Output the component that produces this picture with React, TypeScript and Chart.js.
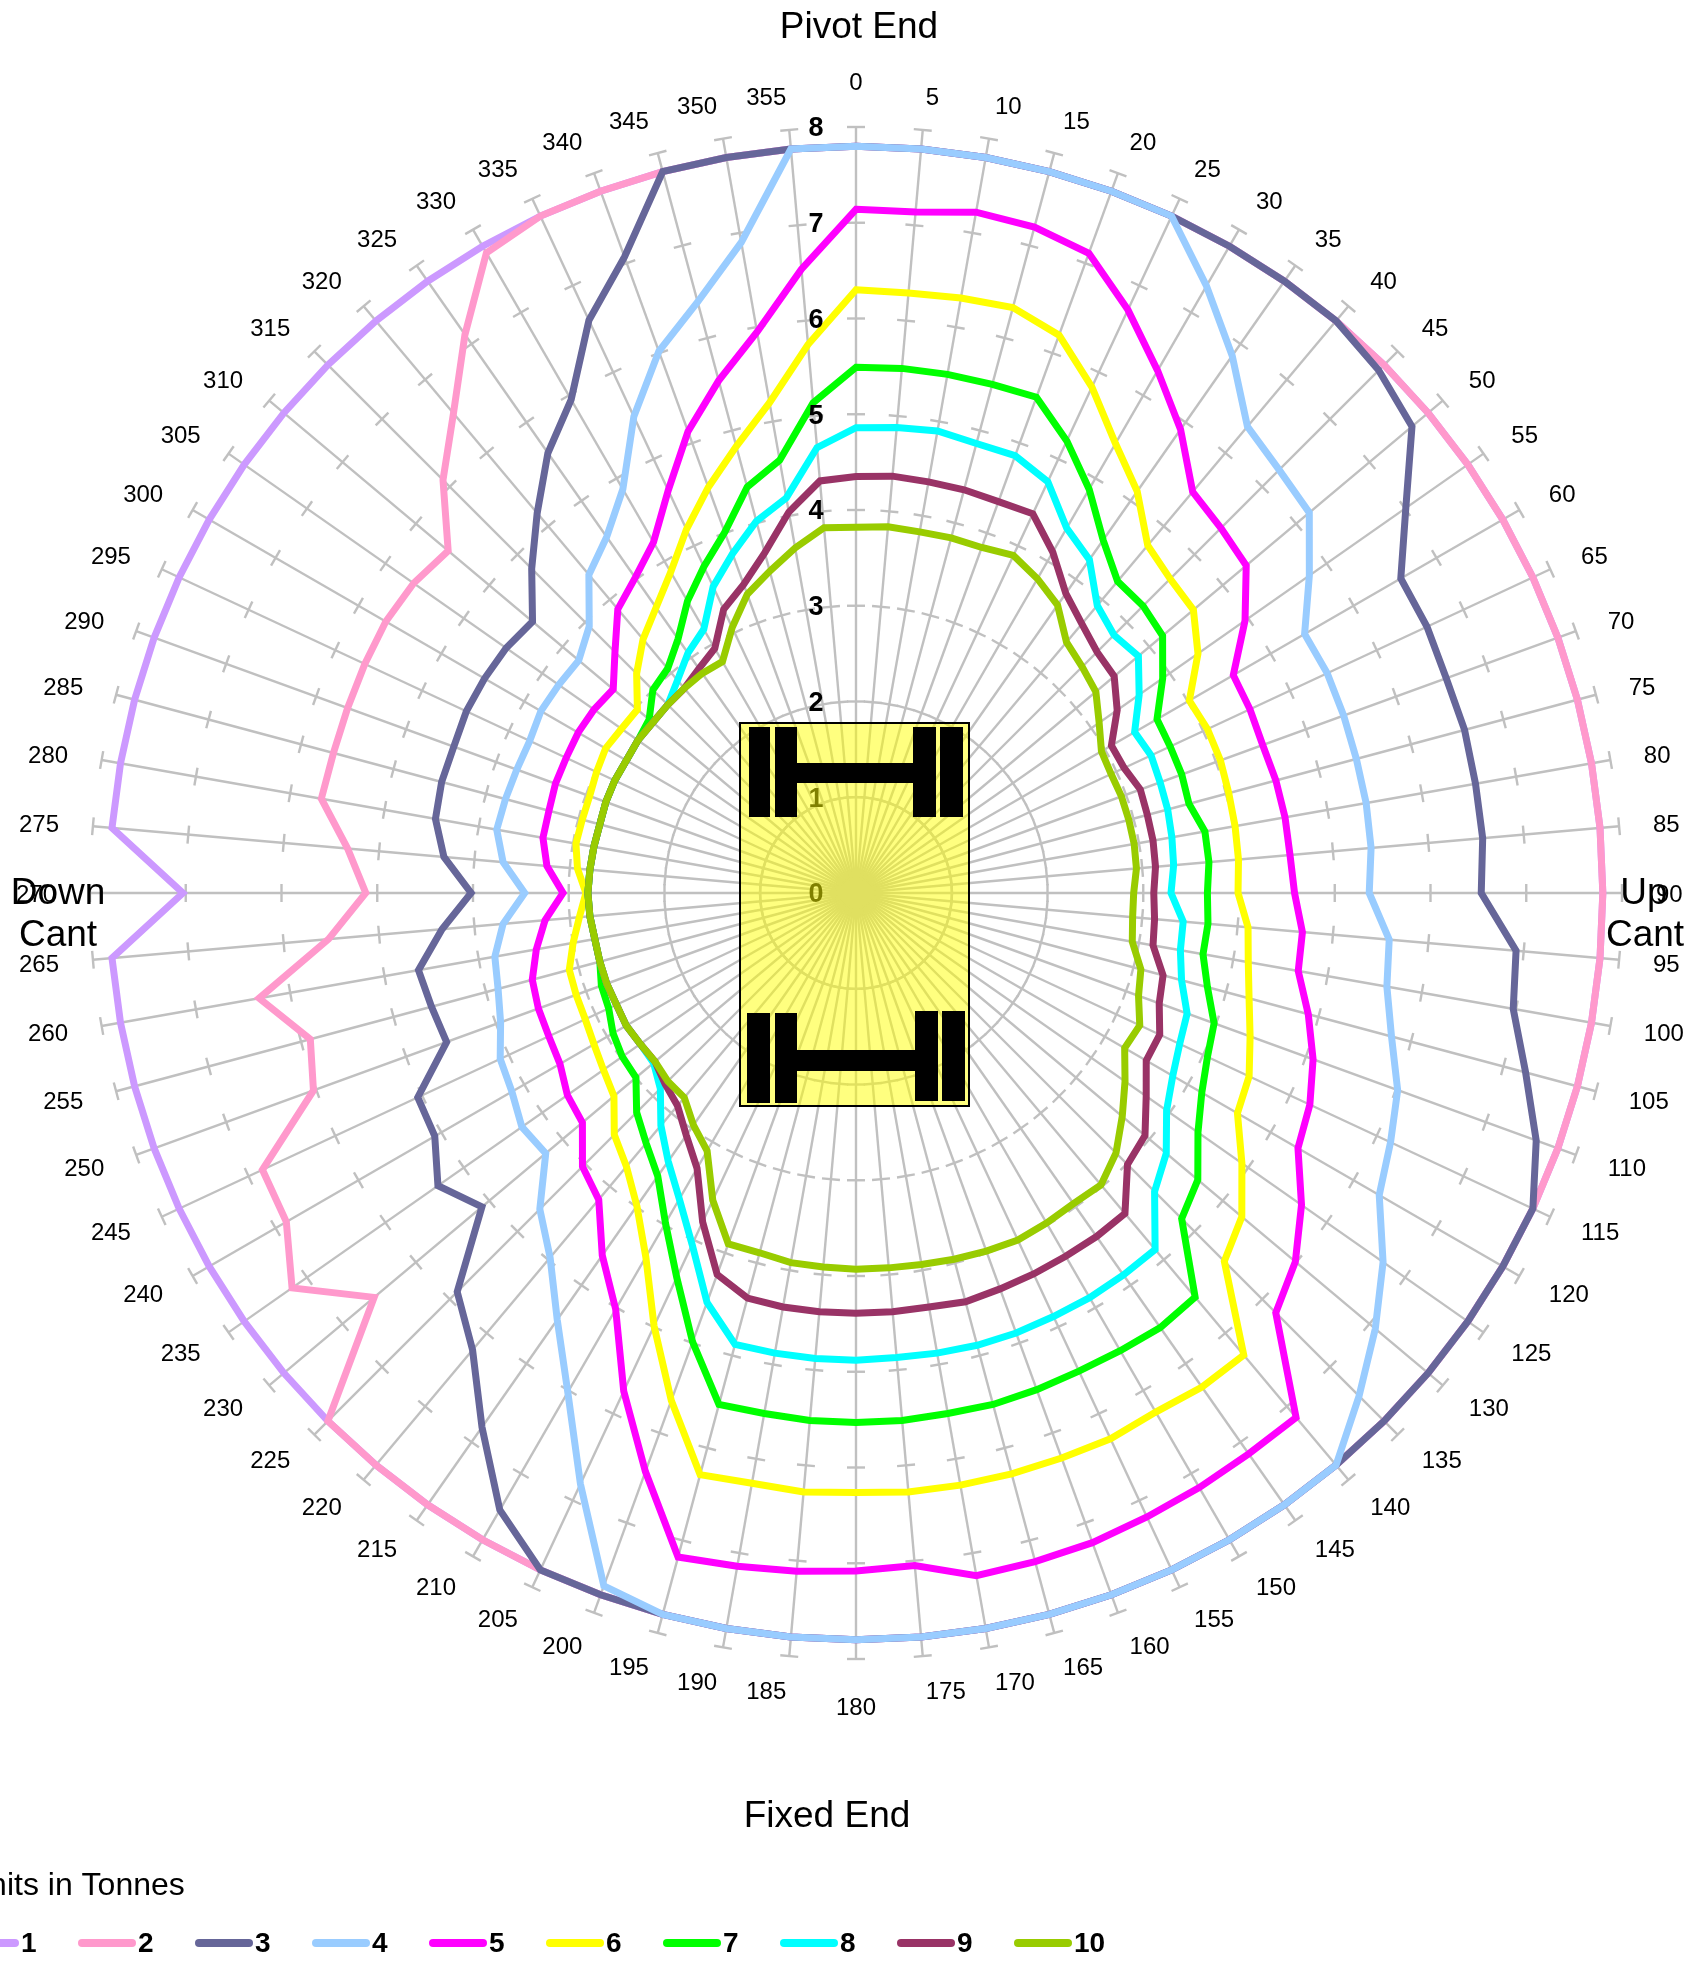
import React, { useEffect, useRef } from "react";
import { Chart, registerables } from "chart.js";

Chart.register(...registerables);

const angles = [
  0, 5, 10, 15, 20, 25, 30, 35, 40, 45, 50, 55, 60, 65, 70, 75, 80, 85,
  90, 95, 100, 105, 110, 115, 120, 125, 130, 135, 140, 145, 150, 155, 160, 165, 170, 175,
  180, 185, 190, 195, 200, 205, 210, 215, 220, 225, 230, 235, 240, 245, 250, 255, 260, 265,
  270, 275, 280, 285, 290, 295, 300, 305, 310, 315, 320, 325, 330, 335, 340, 345, 350, 355,
];
const tonnes = [0, 1, 2, 3, 4, 5, 6, 7, 8];

const s1 = [
  7.8, 7.8, 7.8, 7.8, 7.8, 7.8, 7.8, 7.8, 7.8, 7.8, 7.8, 7.8, 7.8, 7.8, 7.8, 7.8, 7.8, 7.8,
  7.8, 7.8, 7.8, 7.8, 7.8, 7.8, 7.8, 7.8, 7.8, 7.8, 7.8, 7.8, 7.8, 7.8, 7.8, 7.8, 7.8, 7.8,
  7.8, 7.8, 7.8, 7.8, 7.8, 7.8, 7.8, 7.8, 7.8, 7.8, 7.8, 7.8, 7.8, 7.8, 7.8, 7.8, 7.8, 7.8,
  7.03, 7.8, 7.8, 7.8, 7.8, 7.8, 7.8, 7.8, 7.8, 7.8, 7.8, 7.8, 7.8, 7.8, 7.8, 7.8, 7.8, 7.8,
];
const s2 = [
  7.8, 7.8, 7.8, 7.8, 7.8, 7.8, 7.8, 7.8, 7.8, 7.8, 7.8, 7.8, 7.8, 7.8, 7.8, 7.8, 7.8, 7.8,
  7.8, 7.8, 7.8, 7.8, 7.8, 7.8, 7.8, 7.8, 7.8, 7.8, 7.8, 7.8, 7.8, 7.8, 7.8, 7.8, 7.8, 7.8,
  7.8, 7.8, 7.8, 7.8, 7.8, 7.8, 7.8, 7.8, 7.8, 7.8, 6.57, 7.19, 6.87, 6.84, 6.03, 5.9, 6.33, 5.53,
  5.12, 5.33, 5.67, 5.65, 5.65, 5.66, 5.67, 5.64, 5.56, 6.1, 6.54, 7.12, 7.72, 7.8, 7.8, 7.8, 7.8, 7.8,
];
const s3 = [
  7.8, 7.8, 7.8, 7.8, 7.8, 7.8, 7.8, 7.8, 7.8, 7.72, 7.58, 7.01, 6.57, 6.58, 6.56, 6.58, 6.57, 6.57,
  6.53, 6.92, 6.97, 7.24, 7.56, 7.8, 7.8, 7.8, 7.8, 7.8, 7.8, 7.8, 7.8, 7.8, 7.8, 7.8, 7.8, 7.8,
  7.8, 7.8, 7.8, 7.8, 7.8, 7.8, 7.44, 6.81, 6.23, 5.89, 5.1, 5.33, 5.08, 5.05, 4.55, 4.59, 4.64, 4.34,
  4.02, 4.32, 4.46, 4.48, 4.47, 4.49, 4.48, 4.46, 4.41, 4.79, 5.18, 5.61, 5.95, 6.6, 7.07, 7.8, 7.8, 7.8,
];
const s4 = [
  7.8, 7.8, 7.8, 7.8, 7.8, 7.8, 7.32, 6.85, 6.36, 6.25, 6.18, 5.78, 5.41, 5.43, 5.42, 5.41, 5.41, 5.4,
  5.36, 5.59, 5.63, 5.79, 6.02, 6.16, 6.31, 6.72, 7.08, 7.43, 7.8, 7.8, 7.8, 7.8, 7.8, 7.8, 7.8, 7.8,
  7.8, 7.8, 7.8, 7.8, 7.7, 6.81, 6.02, 5.44, 4.97, 4.67, 4.23, 4.26, 4.15, 4.1, 3.95, 3.87, 3.83, 3.7,
  3.46, 3.7, 3.81, 3.79, 3.77, 3.76, 3.8, 3.79, 3.78, 3.94, 4.34, 4.54, 4.87, 5.49, 6.02, 6.39, 6.9, 7.8,
];
const s5 = [
  7.14, 7.14, 7.22, 7.2, 7.11, 6.72, 6.3, 5.91, 5.47, 5.39, 5.32, 4.96, 4.55, 4.54, 4.52, 4.54, 4.55, 4.55,
  4.58, 4.68, 4.69, 4.89, 5.08, 5.23, 5.33, 5.68, 5.99, 6.2, 7.15, 7.15, 7.17, 7.19, 7.22, 7.23, 7.24, 7.05,
  7.08, 7.11, 7.14, 7.18, 6.43, 5.74, 5.02, 4.62, 4.18, 4.04, 3.73, 3.68, 3.57, 3.54, 3.53, 3.5, 3.39, 3.26,
  3.06, 3.24, 3.32, 3.32, 3.34, 3.34, 3.35, 3.34, 3.31, 3.56, 3.87, 4.02, 4.23, 4.64, 5.13, 5.54, 5.95, 6.54,
];
const s6 = [
  6.3, 6.29, 6.31, 6.33, 6.2, 5.83, 5.42, 5.12, 4.74, 4.64, 4.6, 4.36, 4.02, 4.05, 4.05, 4.03, 4.02, 4.01,
  3.99, 4.11, 4.16, 4.25, 4.38, 4.53, 4.6, 4.92, 5.26, 5.44, 6.3, 6.3, 6.26, 6.29, 6.28, 6.28, 6.28, 6.28,
  6.26, 6.28, 6.26, 6.29, 5.64, 4.99, 4.39, 3.99, 3.73, 3.57, 3.3, 3.22, 3.16, 3.12, 3.11, 3.1, 3.0, 2.9,
  2.82, 2.92, 2.97, 2.96, 2.96, 2.99, 3.02, 2.99, 2.98, 3.24, 3.46, 3.64, 3.87, 4.19, 4.51, 4.83, 5.2, 5.75,
];
const s7 = [
  5.49, 5.5, 5.5, 5.5, 5.51, 5.21, 4.87, 4.5, 4.25, 4.24, 4.18, 3.91, 3.63, 3.62, 3.62, 3.6, 3.7, 3.7,
  3.67, 3.69, 3.68, 3.8, 3.98, 4.05, 4.17, 4.36, 4.66, 4.81, 5.51, 5.54, 5.52, 5.51, 5.52, 5.53, 5.52, 5.53,
  5.53, 5.53, 5.52, 5.53, 4.99, 4.43, 3.98, 3.61, 3.41, 3.24, 3.0, 2.98, 2.93, 2.85, 2.83, 2.77, 2.77, 2.79,
  2.8, 2.79, 2.78, 2.77, 2.78, 2.78, 2.77, 2.78, 2.82, 3.0, 3.06, 3.24, 3.52, 3.76, 4.01, 4.39, 4.59, 5.14,
];
const s8 = [
  4.86, 4.88, 4.9, 4.86, 4.86, 4.74, 4.4, 4.25, 3.92, 3.81, 3.85, 3.61, 3.36, 3.4, 3.38, 3.37, 3.35, 3.33,
  3.29, 3.43, 3.44, 3.52, 3.68, 3.73, 3.82, 3.96, 4.23, 4.41, 4.86, 4.87, 4.88, 4.88, 4.89, 4.89, 4.88, 4.87,
  4.88, 4.88, 4.88, 4.88, 4.55, 4.05, 3.69, 3.42, 3.17, 2.89, 2.76, 2.75, 2.77, 2.76, 2.77, 2.77, 2.77, 2.79,
  2.8, 2.79, 2.78, 2.77, 2.78, 2.78, 2.77, 2.78, 2.77, 2.78, 2.9, 3.06, 3.18, 3.53, 3.77, 4.02, 4.19, 4.67,
];
const s9 = [
  4.35, 4.37, 4.36, 4.36, 4.35, 4.37, 4.11, 3.82, 3.67, 3.56, 3.52, 3.33, 3.08, 3.09, 3.16, 3.15, 3.15, 3.14,
  3.11, 3.13, 3.15, 3.32, 3.37, 3.5, 3.5, 3.7, 3.94, 4.01, 4.37, 4.38, 4.38, 4.39, 4.4, 4.42, 4.39, 4.39,
  4.39, 4.39, 4.39, 4.38, 4.24, 3.79, 3.32, 3.09, 2.9, 2.82, 2.74, 2.75, 2.77, 2.76, 2.77, 2.77, 2.77, 2.79,
  2.8, 2.79, 2.78, 2.77, 2.78, 2.78, 2.77, 2.78, 2.77, 2.78, 2.79, 2.86, 2.95, 3.27, 3.43, 3.68, 4.04, 4.32,
];
const s10 = [
  3.82, 3.84, 3.83, 3.84, 3.84, 3.89, 3.79, 3.67, 3.42, 3.34, 3.27, 3.1, 2.96, 2.94, 2.95, 2.95, 2.95, 2.94,
  2.9, 2.9, 2.93, 3.08, 3.14, 3.27, 3.24, 3.43, 3.63, 3.84, 3.98, 3.96, 3.98, 4.0, 3.98, 3.96, 3.94, 3.93,
  3.93, 3.92, 3.92, 3.89, 3.9, 3.54, 3.11, 2.96, 2.79, 2.78, 2.74, 2.75, 2.77, 2.76, 2.77, 2.77, 2.77, 2.79,
  2.8, 2.79, 2.78, 2.77, 2.78, 2.78, 2.77, 2.78, 2.77, 2.78, 2.79, 2.8, 2.79, 3.06, 3.32, 3.48, 3.66, 3.83,
];

const seriesNames = ["1", "2", "3", "4", "5", "6", "7", "8", "9", "10"];
const seriesValues = [s1, s2, s3, s4, s5, s6, s7, s8, s9, s10];
const seriesColors = ["#cc99ff", "#ff99cc", "#666699", "#99ccff", "#ff00ff", "#ffff00", "#00ff00", "#00ffff", "#993366", "#99cc00"];

const FONT = '"Liberation Sans", Arial, sans-serif';
const GRID = "#c0c0c0";

const decorations = {
  id: "decorations",
  beforeDatasetsDraw(chart: any) {
    const { ctx } = chart;
    const scale = chart.scales.r;
    ctx.save();
    ctx.strokeStyle = GRID;
    ctx.lineWidth = 2.4;
    const half = 9;
    angles.forEach((deg, i) => {
      const a = (deg * Math.PI) / 180;
      const tx = Math.cos(a);
      const ty = Math.sin(a);
      tonnes.forEach((t) => {
        const p = scale.getPointPositionForValue(i, t);
        ctx.beginPath();
        ctx.moveTo(p.x - tx * half, p.y - ty * half);
        ctx.lineTo(p.x + tx * half, p.y + ty * half);
        ctx.stroke();
      });
    });
    ctx.restore();
  },
  afterDatasetsDraw(chart: any) {
    const { ctx } = chart;
    const scale = chart.scales.r;
    ctx.save();
    ctx.textBaseline = "middle";
    ctx.textAlign = "center";
    ctx.fillStyle = "#000";

    // radial tick labels
    ctx.font = `bold 27px ${FONT}`;
    tonnes.forEach((t) => {
      const p = scale.getPointPositionForValue(0, t);
      ctx.fillText(String(t), p.x - 40, p.y + 2);
    });

    // angle labels, anchored on a ring just outside the axis
    ctx.font = `24px ${FONT}`;
    angles.forEach((deg, i) => {
      const p = scale.getPointPosition(i, 800);
      if (deg === 0 || deg === 180) {
        ctx.textAlign = "center";
        ctx.fillText(String(deg), p.x, p.y + (deg === 0 ? -10 : 15));
      } else {
        ctx.textAlign = deg < 180 ? "left" : "right";
        ctx.fillText(String(deg), p.x, p.y + 2.5);
      }
    });
    ctx.textAlign = "center";

    // side titles
    ctx.font = `37px ${FONT}`;
    ctx.fillText("Pivot End", 859, 28);
    ctx.fillText("Fixed End", 827, 1817);
    ctx.fillText("Down", 58, 894);
    ctx.fillText("Cant", 58, 936);
    ctx.fillText("Up", 1644, 894);
    ctx.fillText("Cant", 1645, 936);

    // units note
    ctx.textAlign = "left";
    ctx.font = `32px ${FONT}`;
    ctx.fillText("Units in Tonnes", -34, 1886);

    // legend
    seriesNames.forEach((name, i) => {
      const x0 = -39 + 117 * i;
      ctx.strokeStyle = seriesColors[i];
      ctx.lineWidth = 8;
      ctx.lineCap = "round";
      ctx.beginPath();
      ctx.moveTo(x0 + 4, 1943);
      ctx.lineTo(x0 + 54, 1943);
      ctx.stroke();
      ctx.font = `bold 28px ${FONT}`;
      ctx.fillText(name, x0 + 60, 1944);
    });

    // chassis overlay
    ctx.fillStyle = "rgba(255,255,0,0.5)";
    ctx.fillRect(740, 723, 229, 383);
    ctx.strokeStyle = "#000";
    ctx.lineWidth = 2;
    ctx.lineCap = "butt";
    ctx.strokeRect(740, 723, 229, 383);
    ctx.fillStyle = "#000";
    const blocks = [
      [749, 727, 21, 90],
      [775, 727, 22, 90],
      [913, 727, 23, 90],
      [940, 727, 23, 90],
      [797, 763, 116, 20],
      [747, 1013, 23, 90],
      [775, 1013, 22, 90],
      [915, 1011, 23, 90],
      [942, 1011, 23, 90],
      [797, 1050, 118, 21],
    ];
    blocks.forEach(([x, y, w, h]) => ctx.fillRect(x, y, w, h));
    ctx.restore();
  },
};

export default function App() {
  const ref = useRef<HTMLCanvasElement | null>(null);
  useEffect(() => {
    if (!ref.current) return;
    const chart = new Chart(ref.current, {
      type: "radar",
      data: {
        labels: angles.map(String),
        datasets: seriesNames.map((name, i) => ({
          label: name,
          data: seriesValues[i],
          borderColor: seriesColors[i],
          backgroundColor: "transparent",
          borderWidth: 7,
          fill: false,
          pointRadius: 0,
          tension: 0,
          borderJoinStyle: "miter",
          order: 10 - i,
        })),
      },
      options: {
        responsive: false,
        animation: false,
        devicePixelRatio: 1,
        layout: { padding: { left: 90, right: 79, top: 127, bottom: 303 } },
        plugins: { legend: { display: false }, tooltip: { enabled: false }, title: { display: false } },
        scales: {
          r: {
            min: 0,
            max: 8,
            beginAtZero: true,
            grid: { display: false },
            angleLines: { display: true, color: GRID, lineWidth: 2.4 },
            pointLabels: { display: false },
            ticks: { display: false, stepSize: 1 },
          },
        },
      },
      plugins: [decorations],
    } as any);
    return () => chart.destroy();
  }, []);
  return (
    <canvas
      ref={ref}
      width={1701}
      height={1962}
      style={{ position: "absolute", left: 0, top: 0, display: "block", width: 1701, height: 1962 }}
    />
  );
}
